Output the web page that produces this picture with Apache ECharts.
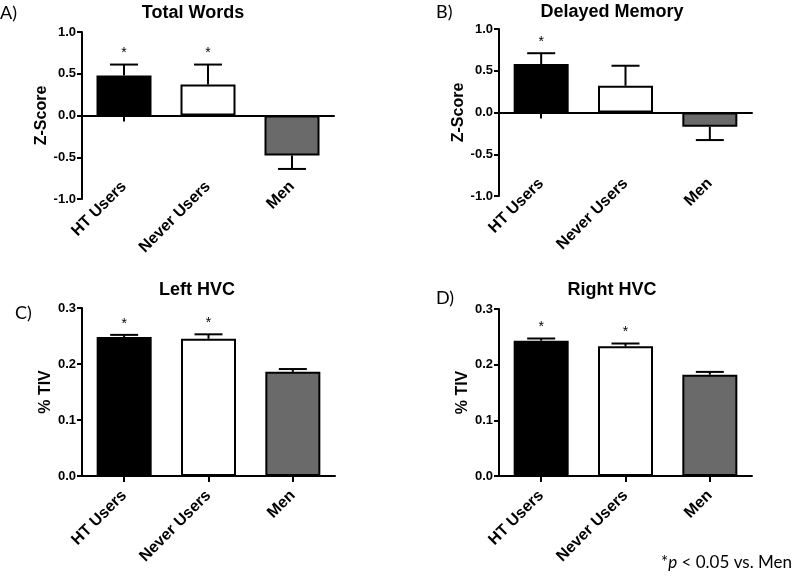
<!DOCTYPE html>
<html><head><meta charset="utf-8">
<script src="https://cdn.jsdelivr.net/npm/echarts@6/dist/echarts.min.js"></script>
<style>html,body{margin:0;padding:0;background:#fff}#c{width:800px;height:581px}</style>
</head><body><div id="c"></div>
<script>
const categories = ['HT Users', 'Never Users', 'Men'];
const barColors = ['#000000', '#ffffff', '#6a6a6a'];

const totalWords = [0.48, 0.37, -0.48];
const totalWordsErr = [0.13, 0.24, 0.16];
const totalWordsSig = [1, 1, 0];

const delayedMemory = [0.58, 0.32, -0.17];
const delayedMemoryErr = [0.13, 0.24, 0.16];
const delayedMemorySig = [1, 0, 0];

const leftHVC = [0.248, 0.245, 0.186];
const leftHVCErr = [0.004, 0.008, 0.005];
const leftHVCSig = [1, 1, 0];

const rightHVC = [0.243, 0.233, 0.182];
const rightHVCErr = [0.004, 0.005, 0.005];
const rightHVCSig = [1, 1, 0];

const zScoreTicks = [-1.0, -0.5, 0.0, 0.5, 1.0];
const tivTicks = [0.0, 0.1, 0.2, 0.3];

const panels = [
  {title: 'Total Words', tag: 'A)', values: totalWords, err: totalWordsErr, sig: totalWordsSig, yName: 'Z-Score', ticks: zScoreTicks,
   grid: {left: 82, top: 32, width: 252, height: 167}, titleX: 193, titleY: 13, tagX: 0, tagY: 13, nameGap: 32, split: true, labelMargin: -15},
  {title: 'Delayed Memory', tag: 'B)', values: delayedMemory, err: delayedMemoryErr, sig: delayedMemorySig, yName: 'Z-Score', ticks: zScoreTicks,
   grid: {left: 499, top: 29, width: 253, height: 167}, titleX: 612, titleY: 12, tagX: 436, tagY: 12, nameGap: 32, split: true, labelMargin: -15},
  {title: 'Left HVC', tag: 'C)', values: leftHVC, err: leftHVCErr, sig: leftHVCSig, yName: '% TIV', ticks: tivTicks,
   grid: {left: 82, top: 308, width: 253, height: 168}, titleX: 197, titleY: 290, tagX: 15, tagY: 313, nameGap: 28, split: false, labelMargin: 17},
  {title: 'Right HVC', tag: 'D)', values: rightHVC, err: rightHVCErr, sig: rightHVCSig, yName: '% TIV', ticks: tivTicks,
   grid: {left: 499, top: 309, width: 253, height: 167}, titleX: 612, titleY: 290, tagX: 436, tagY: 298, nameGap: 28, split: false, labelMargin: 17}
];

const FONT = '"Liberation Sans", Arial, sans-serif';
const TAGFONT = 'Lato, "Open Sans", sans-serif';
const labelStyle = {color: '#000', fontFamily: FONT, fontWeight: 'bold', fontSize: 16, rotate: 45, interval: 0,
  align: 'right', verticalAlign: 'middle'};

function errRender(params, api) {
  const i = api.value(0), v = api.value(1), e = api.value(2), s = api.value(3);
  const dir = v >= 0 ? 1 : -1;
  const p0 = api.coord([i, v]);
  const p1 = api.coord([i, v + dir * e]);
  const half = 14;
  const st = {stroke: '#000', lineWidth: 2};
  const children = [
    {type: 'line', shape: {x1: p0[0], y1: p0[1], x2: p1[0], y2: p1[1]}, style: st},
    {type: 'line', shape: {x1: p1[0] - half, y1: p1[1], x2: p1[0] + half, y2: p1[1]}, style: st}
  ];
  if (s) {
    children.push({type: 'text', x: p1[0], y: p1[1] - 11,
      style: {text: '*', fill: '#000', font: '14px ' + FONT, align: 'center', verticalAlign: 'middle'}});
  }
  return {type: 'group', children};
}

const grids = [], xAxes = [], yAxes = [], series = [], graphics = [];
panels.forEach((p, k) => {
  grids.push(Object.assign({containLabel: false}, p.grid));
  const xIndex = xAxes.length;
  xAxes.push({
    gridIndex: k, type: 'category', data: categories, position: 'bottom',
    axisLine: {show: true, onZero: true, lineStyle: {color: '#000', width: 2}},
    axisTick: {show: true, alignWithLabel: true, length: 6, lineStyle: {color: '#000', width: 2}},
    axisLabel: p.split ? {show: false} : Object.assign({margin: p.labelMargin}, labelStyle),
    splitLine: {show: false}
  });
  if (p.split) {
    xAxes.push({
      gridIndex: k, type: 'category', data: categories, position: 'bottom',
      axisLine: {show: false, onZero: false}, axisTick: {show: false},
      axisLabel: Object.assign({margin: p.labelMargin}, labelStyle), splitLine: {show: false}
    });
  }
  const t = p.ticks;
  yAxes.push({
    gridIndex: k, type: 'value', min: t[0], max: t[t.length - 1], interval: t[1] - t[0],
    name: p.yName, nameLocation: 'middle', nameGap: p.nameGap,
    nameTextStyle: {color: '#000', fontFamily: FONT, fontWeight: 'bold', fontSize: 16},
    axisLine: {show: true, lineStyle: {color: '#000', width: 2}},
    axisTick: {show: true, length: 5, lineStyle: {color: '#000', width: 2}},
    axisLabel: {color: '#000', fontFamily: FONT, fontWeight: 'bold', fontSize: 13, margin: 6,
      formatter: v => v.toFixed(1)},
    splitLine: {show: false}
  });
  series.push({
    type: 'bar', xAxisIndex: xIndex, yAxisIndex: k, barWidth: 55, z: 2,
    itemStyle: {borderColor: '#000', borderWidth: 2},
    data: p.values.map((v, i) => ({value: v, itemStyle: {color: barColors[i]}}))
  });
  series.push({
    type: 'custom', xAxisIndex: xIndex, yAxisIndex: k, z: 3, renderItem: errRender,
    encode: {x: 0, y: 1},
    data: p.values.map((v, i) => [i, v, p.err[i], p.sig[i]])
  });
  graphics.push({type: 'text', x: p.titleX, y: p.titleY,
    style: {text: p.title, fill: '#000', font: 'bold 18px ' + FONT, align: 'center', verticalAlign: 'middle'}});
  graphics.push({type: 'text', x: p.tagX, y: p.tagY,
    style: {text: p.tag, fill: '#000', font: '18px ' + TAGFONT, align: 'left', verticalAlign: 'middle'}});
});

graphics.push({type: 'text', x: 792, y: 563,
  style: {
    text: '{a|*}{b|p}{a| < 0.05 vs. Men}', align: 'right', verticalAlign: 'middle',
    rich: {
      a: {fontFamily: TAGFONT, fontSize: 17, fill: '#000', color: '#000'},
      b: {fontFamily: TAGFONT, fontSize: 17, fontStyle: 'italic', fill: '#000', color: '#000'}
    }
  }});

const chart = echarts.init(document.getElementById('c'), null, {renderer: 'canvas'});
chart.setOption({
  animation: false,
  backgroundColor: '#fff',
  grid: grids, xAxis: xAxes, yAxis: yAxes, series: series, graphic: graphics
});
</script>
</body></html>
